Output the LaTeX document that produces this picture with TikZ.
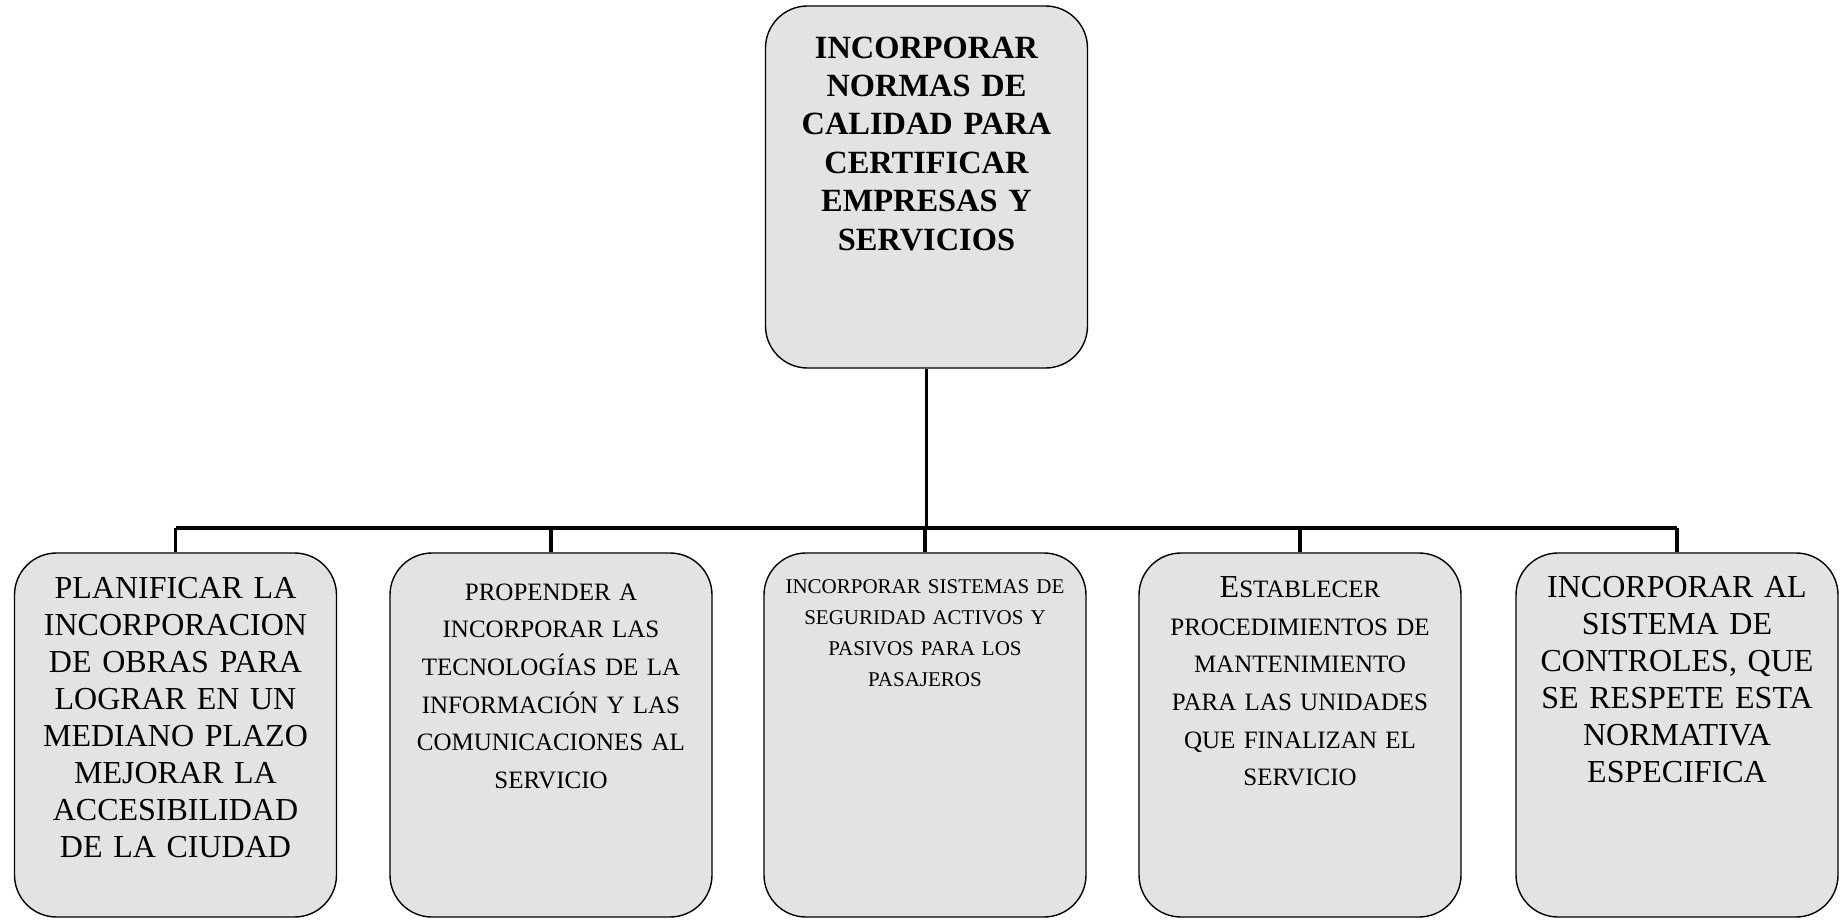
\documentclass[tikz,border=0pt]{standalone}
\usepackage{fontspec}
\setmainfont{Liberation Serif}

\begin{document}
\begin{tikzpicture}[x=0.5pt, y=-0.5pt,
  goal/.style={draw, line width=0.7pt, rounded corners=21pt, fill=black!11,
    minimum width=161pt, minimum height=182pt, inner sep=0pt},
  goaltext/.style={anchor=north, align=center, inner sep=0pt, text width=155pt},
  link/.style={line width=1.6pt}]
  \useasboundingbox (0,0) rectangle (1848,920);
  % main objective
  \node[goal, minimum height=181pt] (main) at (926.5,187) {};
  \node[goaltext, font=\bfseries\fontsize{16.2}{19.2}\selectfont] (mainT)
    at ([yshift=-15.5pt]main.north)
    {INCORPORAR\\NORMAS DE\\CALIDAD PARA\\CERTIFICAR\\EMPRESAS Y\\SERVICIOS};
  % second level boxes
  \node[goal] (b1) at (175.5,735) {};
  \node[goal] (b2) at (551,735) {};
  \node[goal] (b3) at (925,735) {};
  \node[goal] (b4) at (1300,735) {};
  \node[goal] (b5) at (1677,735) {};
  \node[goaltext, font=\fontsize{16}{18.5}\selectfont] (b1T) at ([yshift=-12.5pt]b1.north)
    {PLANIFICAR LA\\INCORPORACION\\DE OBRAS PARA\\LOGRAR EN UN\\MEDIANO PLAZO\\MEJORAR LA\\ACCESIBILIDAD\\DE LA CIUDAD};
  \node[goaltext, font=\fontsize{12.5}{18.8}\selectfont] (b2T) at ([yshift=-15.5pt]b2.north)
    {PROPENDER A\\INCORPORAR LAS\\TECNOLOGÍAS DE LA\\INFORMACIÓN Y LAS\\COMUNICACIONES AL\\SERVICIO};
  \node[goaltext, font=\fontsize{10.5}{15.5}\selectfont] (b3T) at ([yshift=-13.5pt]b3.north)
    {INCORPORAR SISTEMAS DE\\SEGURIDAD ACTIVOS Y\\PASIVOS PARA LOS\\PASAJEROS};
  \node[goaltext, font=\fontsize{12.5}{18.8}\selectfont] (b4T) at ([yshift=-12pt]b4.north)
    {{\fontsize{16}{18.8}\selectfont E}STABLECER\\PROCEDIMIENTOS DE\\MANTENIMIENTO\\PARA LAS UNIDADES\\QUE FINALIZAN EL\\SERVICIO};
  \node[goaltext, font=\fontsize{16}{18.5}\selectfont] (b5T) at ([yshift=-12pt]b5.north)
    {INCORPORAR AL\\SISTEMA DE\\CONTROLES, QUE\\SE RESPETE ESTA\\NORMATIVA\\ESPECIFICA};
  % tree connectors
  \coordinate (bar) at (926,528);
  \draw[link] (main.south) -- (main.south |- bar);
  \draw[link] (b1.north |- bar) -- (b5.north |- bar);
  \foreach \b in {b1,b2,b3,b4,b5}
    \draw[link] (\b.north |- bar) -- (\b.north);
\end{tikzpicture}
\end{document}
